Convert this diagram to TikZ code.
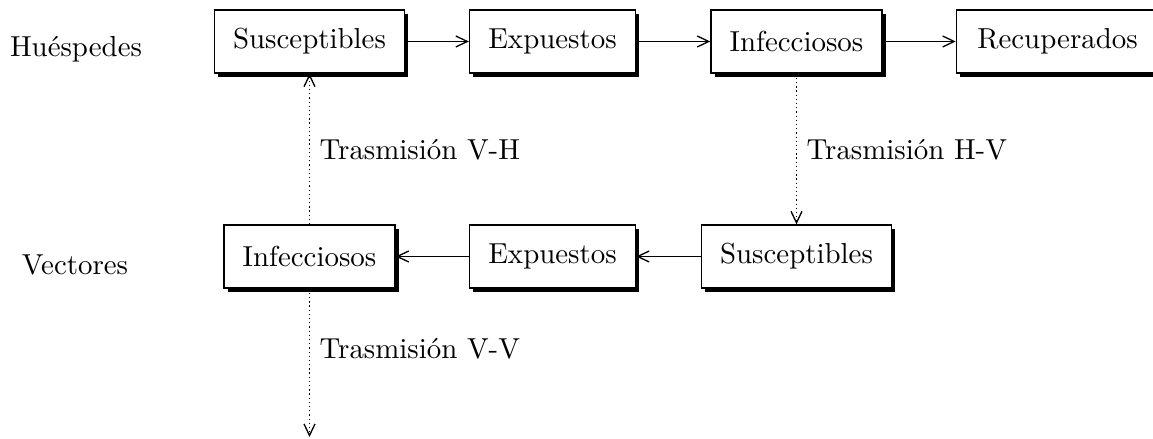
\documentclass[tikz,border=0pt]{standalone}
\usetikzlibrary{shadows,arrows.meta}
\begin{document}
\begin{tikzpicture}[x=0.346pt,y=-0.346pt,
  compbox/.style={draw=black, line width=0.45pt, fill=white, inner xsep=6.5pt, minimum height=21.8pt,
    drop shadow={fill=black, opacity=1, shadow xshift=1.3pt, shadow yshift=-1.3pt}},
  flow/.style={-{Straight Barb[length=4pt,width=3.8pt,line width=0.45pt]}, line width=0.45pt},
  trans/.style={-{Straight Barb[length=4pt,width=3.8pt,line width=0.45pt]}, densely dotted, line width=0.45pt},
  lbl/.style={anchor=west, inner sep=3.33pt}]
\useasboundingbox (0,0) rectangle (1153,439);
% row labels
\node[anchor=base] (hues) at (76,57) {Huéspedes};
\node[anchor=base] (vect) at (75,275) {Vectores};
% host row
\node[compbox] (hS) at (309.5,41.5) {Susceptibles};
\node[compbox] (hE) at (552.5,41.5) {Expuestos};
\node[compbox] (hI) at (796.5,41.5) {Infecciosos};
\node[compbox, minimum width=70pt] (hR) at (1057.5,41.5) {Recuperados};
% vector row
\node[compbox] (vI) at (309.5,256.5) {Infecciosos};
\node[compbox] (vE) at (552.5,256.5) {Expuestos};
\node[compbox] (vS) at (796.5,256.5) {Susceptibles};
\coordinate (vvend) at (309.5,437);
% flows
\draw[flow] (hS) -- (hE);
\draw[flow] (hE) -- (hI);
\draw[flow] (hI) -- (hR);
\draw[flow] (vS) -- (vE);
\draw[flow] (vE) -- (vI);
% transmissions
\draw[trans] (vI.north) -- (hS.south);
\draw[trans] (hI.south) -- (vS.north);
\draw[trans] (vI.south) -- (vvend);
\node[lbl] (tVH) at (309.5,150) {Trasmisión V-H};
\node[lbl] (tHV) at (796.5,150) {Trasmisión H-V};
\node[lbl] (tVV) at (309.5,349) {Trasmisión V-V};
\end{tikzpicture}
\end{document}
